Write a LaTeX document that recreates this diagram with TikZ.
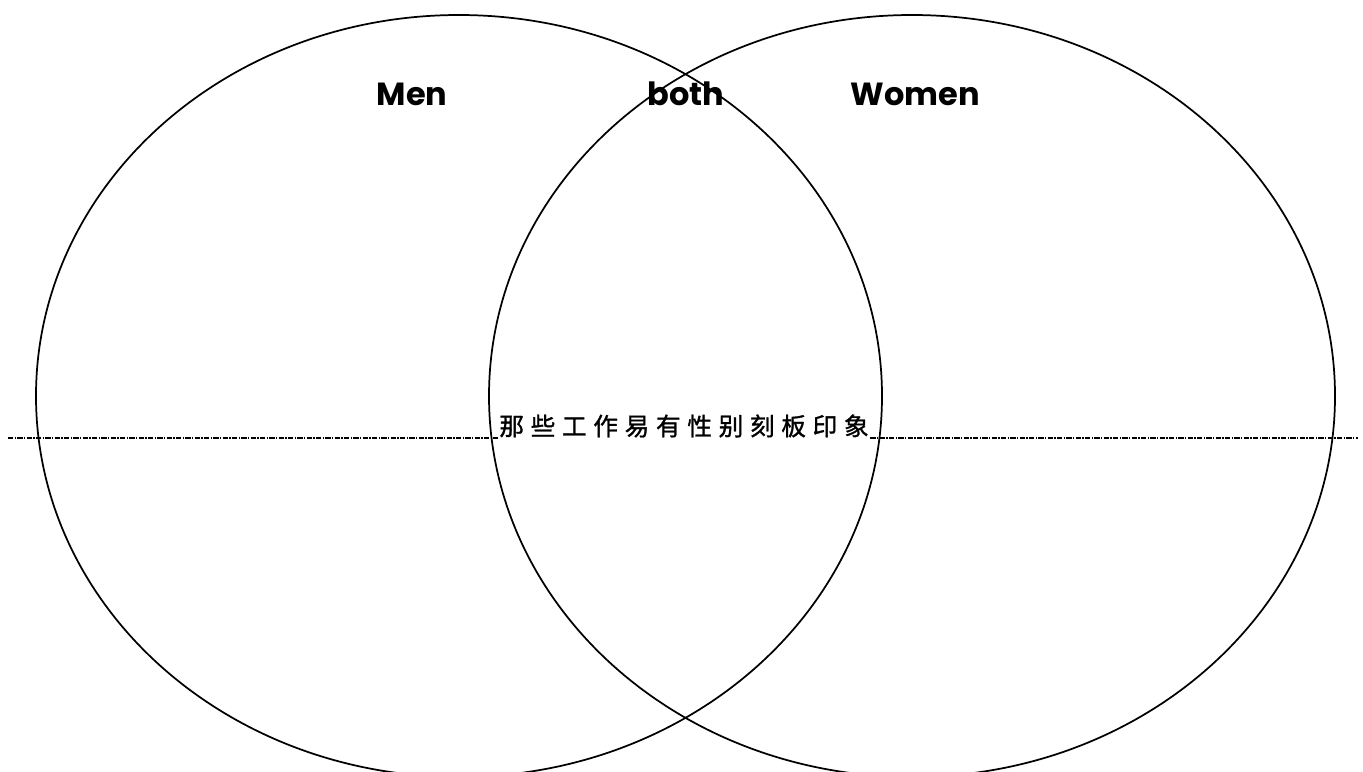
\documentclass[tikz,border=0pt]{standalone}
\usepackage{fontspec}
\usepackage{tikz}
\usetikzlibrary{shapes.geometric}
\setmainfont{Poppins}
\newfontfamily\cjk[LetterSpace=27,FakeBold=1.2]{Noto Sans CJK SC}
\tikzset{
  set/.style   = {ellipse, draw=black, line width=1.3pt, inner sep=0pt,
                  minimum width=634.5pt, minimum height=571.5pt},
  head/.style  = {font=\fontsize{24}{28}\selectfont\bfseries, anchor=base,
                  inner sep=0pt},
  topic/.style = {font=\cjk\fontsize{18.5}{20}\selectfont, inner sep=1pt},
  split/.style = {draw=black, line width=0.9pt,
                  dash pattern=on 4pt off 1pt on 1pt off 1pt},
}

\begin{document}
\begin{tikzpicture}[x=0.75pt,y=-0.75pt]
  \useasboundingbox (0,0) rectangle (1363,771);
  % dividing line with the topic in the middle
  \coordinate (lend) at (8,438);
  \coordinate (rend) at (1358,438);
  \node[topic] (theme) at (684,426) {那些工作易有性别刻板印象};
  \draw[split] (lend) -- (lend -| theme.west);
  \draw[split] (rend -| theme.east) -- (rend);
  % the two sets
  \node[set] (men)   at (459,396) {};
  \node[set] (women) at (912,396) {};
  % headings
  \node[head] (lmen)   at (412,105) {Men};
  \node[head] (lboth)  at (686,105) {both};
  \node[head] (lwomen) at (915,105) {Women};
\end{tikzpicture}
\end{document}
